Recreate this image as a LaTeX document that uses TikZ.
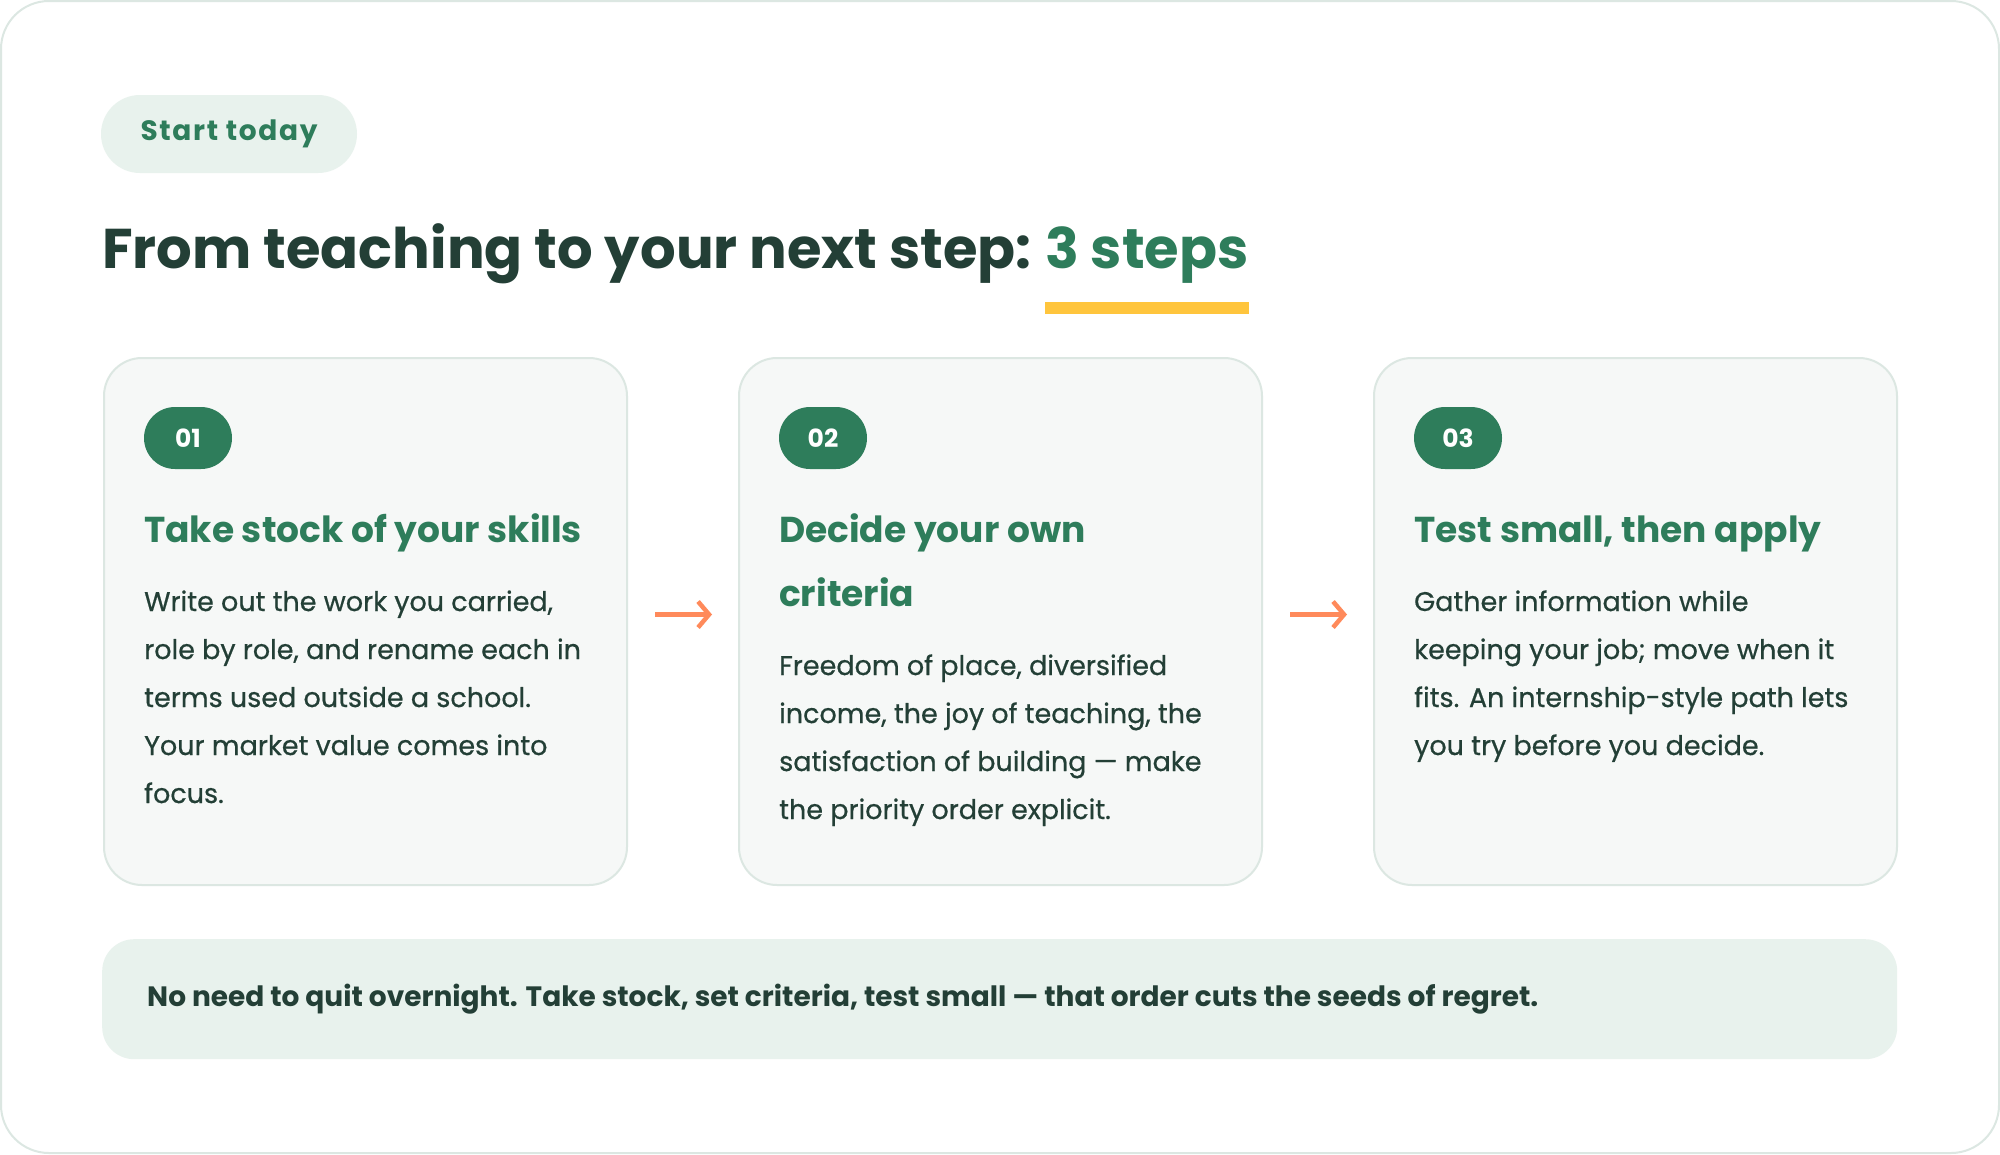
\documentclass[tikz,border=0pt]{standalone}
\usepackage{fontspec}
\setmainfont{Poppins}
\usetikzlibrary{arrows.meta,calc}
\definecolor{ink}{HTML}{233F36}
\definecolor{brand}{HTML}{2E7D5B}
\definecolor{mint}{HTML}{E8F2ED}
\definecolor{cardfill}{HTML}{F6F8F7}
\definecolor{edge}{HTML}{DCE7E2}
\definecolor{gold}{HTML}{FFC53D}
\definecolor{coral}{HTML}{FF8A5B}
\tikzset{
  pill/.style={fill=mint, text=brand, rounded corners=39pt, minimum width=256pt, minimum height=78pt, inner sep=0pt,
    font=\fontsize{28}{32}\selectfont\bfseries\addfontfeatures{LetterSpace=6}},
  cardbox/.style={draw=edge, line width=2pt, fill=cardfill, rounded corners=38pt, anchor=north west, minimum width=523pt, minimum height=527pt, inner sep=0pt},
  badge/.style={fill=brand, text=white, rounded corners=31pt, minimum width=88pt, minimum height=62pt, inner sep=0pt, font=\fontsize{25}{28}\selectfont\bfseries},
  cardtitle/.style={anchor=base west, inner sep=0pt, text=brand, font=\fontsize{36}{40}\selectfont\bfseries},
  bodyline/.style={anchor=base west, inner sep=0pt, text=ink, font=\fontsize{27}{30}\selectfont\addfontfeatures{FakeBold=0.6}},
  flow/.style={draw=coral, line width=4.5pt, -{Straight Barb[length=11pt,width=26pt]}},
}
\begin{document}
\begin{tikzpicture}[x=1pt,y=-1pt]
\path[use as bounding box] (0,0) rectangle (2000,1154);
\draw[edge, line width=2pt, fill=white, rounded corners=48pt] (1,1) rectangle (1999,1153);

\node[pill] (tag) at (229,134) {Start today};

\node[anchor=base west, inner sep=0pt, text=ink, font=\fontsize{56}{64}\selectfont\bfseries] (title) at (102,268) {From teaching to your next step:};
\node[anchor=base west, inner sep=0pt, text=brand, font=\fontsize{56}{64}\selectfont\bfseries] (hl) at ($(title.base east)+(13,0)$) {3 steps};
\fill[gold] ($(hl.base west)+(0,34)$) rectangle ($(hl.base east)+(0,46)$);

\node[cardbox] (c1) at (103,357) {};
\node[cardbox] (c2) at (738,357) {};
\node[cardbox] (c3) at (1373,357) {};

\node[badge] (b1) at (188,438) {01};
\node[badge] (b2) at (823,438) {02};
\node[badge] (b3) at (1458,438) {03};

\node[cardtitle] (t1) at (144,542) {Take stock of your skills};
\node[cardtitle] (t2a) at (779,542) {Decide your own};
\node[cardtitle] (t2b) at (779,606) {criteria};
\node[cardtitle] (t3) at (1414,542) {Test small, then apply};

\foreach \t [count=\i from 0] in {{Write out the work you carried,},{role by role, and rename each in},{terms used outside a school.},{Your market value comes into},{focus.}}
  \node[bodyline] (p1-\i) at (144,611+48*\i) {\t};
\foreach \t [count=\i from 0] in {{Freedom of place, diversified},{income, the joy of teaching, the},{satisfaction of building — make},{the priority order explicit.}}
  \node[bodyline] (p2-\i) at (779,675+48*\i) {\t};
\foreach \t [count=\i from 0] in {{Gather information while},{keeping your job; move when it},{fits. An internship-style path lets},{you try before you decide.}}
  \node[bodyline] (p3-\i) at (1414,611+48*\i) {\t};

\draw[flow, shorten <=27pt, shorten >=26pt] ($(c1.east)+(0,-7)$) -- ($(c2.west)+(0,-7)$);
\draw[flow, shorten <=27pt, shorten >=26pt] ($(c2.east)+(0,-7)$) -- ($(c3.west)+(0,-7)$);

\node[fill=mint, rounded corners=32pt, anchor=north west, minimum width=1795pt, minimum height=120pt, inner sep=0pt] (note) at (102,939) {};
\node[anchor=base west, inner sep=0pt, text=ink, font=\fontsize{28}{30}\selectfont\bfseries] (notetext) at (147,1006) {No need to quit overnight. Take stock, set criteria, test small — that order cuts the seeds of regret.};
\end{tikzpicture}
\end{document}
